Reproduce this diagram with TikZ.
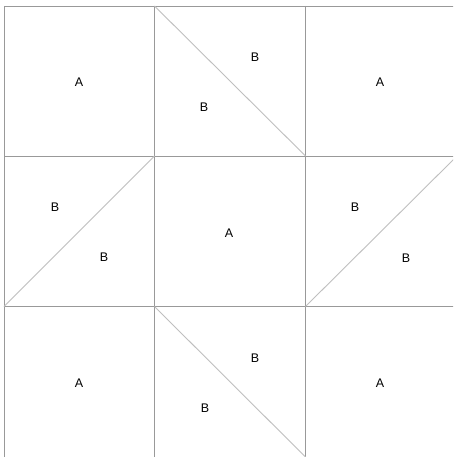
\documentclass[tikz,border=0pt]{standalone}
\usepackage{fontspec}
\setmainfont{Liberation Sans}
\begin{document}
\begin{tikzpicture}[x=1pt,y=-1pt,
  gridline/.style={draw=black!40,line width=0.9pt},
  diagline/.style={draw=black!25,line width=0.9pt},
  lbl/.style={font=\fontsize{12.5}{14}\selectfont,text=black,inner sep=0pt}]
\useasboundingbox[fill=white] (0,0) rectangle (453,457);
\begin{scope}
\clip (0,0) rectangle (453,457);
% grid
\draw[gridline] (4,6) -- (457,6);
\draw[gridline] (4,156) -- (457,156);
\draw[gridline] (4,306.5) -- (457,306.5);
\draw[gridline] (4,6) -- (4,460);
\draw[gridline] (154.5,6) -- (154.5,460);
\draw[gridline] (305.5,6) -- (305.5,460);
% diagonals
\draw[diagline] (154.5,6) -- (305.5,156);
\draw[diagline] (4,306.5) -- (154.5,156);
\draw[diagline] (305.5,306.5) -- (457,156);
\draw[diagline] (154.5,306.5) -- (305.5,457);
\end{scope}
% labels
\node[lbl] (a1) at (79,82) {A};
\node[lbl] (b1) at (255,57) {B};
\node[lbl] (b2) at (204,107) {B};
\node[lbl] (a2) at (380,82) {A};
\node[lbl] (b3) at (55,207) {B};
\node[lbl] (b4) at (104,257) {B};
\node[lbl] (a3) at (229,233) {A};
\node[lbl] (b5) at (355,207) {B};
\node[lbl] (b6) at (406,258) {B};
\node[lbl] (a4) at (79,383) {A};
\node[lbl] (b7) at (255,358) {B};
\node[lbl] (b8) at (205,408) {B};
\node[lbl] (a5) at (380,383) {A};
\end{tikzpicture}
\end{document}
